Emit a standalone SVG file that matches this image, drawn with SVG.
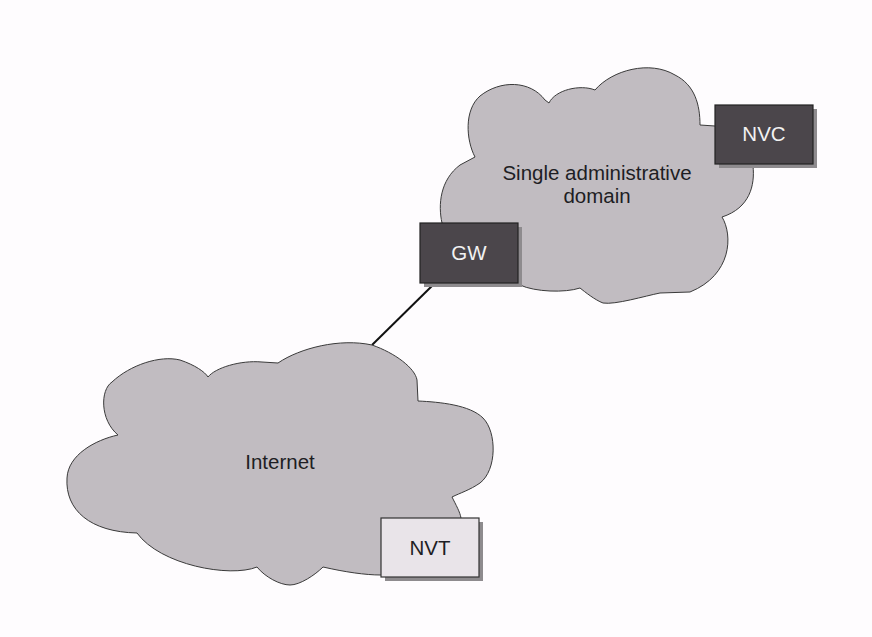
<svg xmlns="http://www.w3.org/2000/svg" width="872" height="637" viewBox="0 0 872 637">
  <style>
    .cloud { fill: #c1bcc1; stroke: #3a3a3a; stroke-width: 1; stroke-linejoin: round; }
    .shadow { fill: #8e8b8e; }
    .dark { fill: #4b464b; stroke: #222; stroke-width: 1.2; }
    .light { fill: #e9e4e9; stroke: #333; stroke-width: 1.2; }
    .label { font-family: "Liberation Sans", Arial, sans-serif; font-size: 20.5px; text-anchor: middle; }
    .on-dark { fill: #f2f2f2; }
    .on-light { fill: #1e1e24; }
    .link { stroke: #111; stroke-width: 2; fill: none; }
  </style>
  <rect width="872" height="637" fill="#fefcfe"/>

  <g id="connectors">
    <line class="link" x1="372" y1="345" x2="436" y2="282"/>
  </g>

  <g id="domain-cloud">
    <path class="cloud" d="M 442,223
      C 438,205 440,180 460,165
      L 475,157
      C 466,140 464,110 480,96
      C 500,80 530,80 545,100
      L 549,103
      C 555,90 580,84 595,90
      C 612,70 650,60 675,75
      C 695,85 700,105 700,125
      L 715,126 L 760,140 L 753,166
      C 755,185 750,208 722,217
      C 733,235 732,275 690,292
      L 660,293
      C 645,296 615,305 603,303
      C 595,300 585,292 580,288
      C 565,293 535,292 520,285
      L 500,260 Z"/>
    <text class="label on-light" x="597" y="180">Single administrative</text>
    <text class="label on-light" x="597" y="203">domain</text>
  </g>

  <g id="internet-cloud">
    <path class="cloud" d="M 372,345
      C 395,353 415,368 417,380
      L 418,401
      C 440,402 470,405 483,418
      C 497,432 497,470 480,483
      C 470,490 460,493 452,497
      C 456,505 460,512 461,518
      L 420,560 L 381,575
      C 365,575 345,572 323,567
      C 315,575 300,585 290,585
      C 280,585 265,577 257,567
      C 230,578 160,565 137,533
      C 90,532 65,510 67,478
      C 68,455 95,440 118,435
      C 100,420 100,390 112,382
      C 130,365 160,355 180,360
      C 195,365 205,372 208,377
      C 215,368 240,360 262,362
      L 278,363
      C 300,348 340,338 372,345 Z"/>
    <text class="label on-light" x="280" y="469">Internet</text>
  </g>

  <g id="gw">
    <rect class="shadow" x="424" y="227" width="98" height="60"/>
    <rect class="dark" x="420" y="223" width="98" height="60"/>
    <text class="label on-dark" x="469" y="260">GW</text>
  </g>

  <g id="nvc">
    <rect class="shadow" x="719" y="109" width="98" height="59"/>
    <rect class="dark" x="715" y="105" width="98" height="59"/>
    <text class="label on-dark" x="764" y="141">NVC</text>
  </g>

  <g id="nvt">
    <rect class="shadow" x="385" y="522" width="98" height="59"/>
    <rect class="light" x="381" y="518" width="98" height="59"/>
    <text class="label on-light" x="430" y="555">NVT</text>
  </g>
</svg>
